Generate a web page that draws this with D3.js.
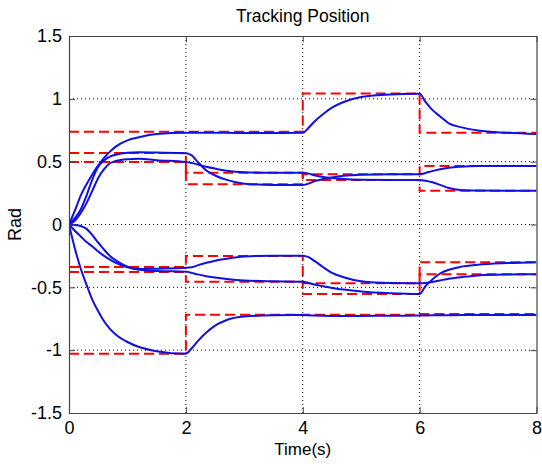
<!DOCTYPE html>
<html>
<head>
<meta charset="utf-8">
<script src="https://cdn.jsdelivr.net/npm/d3@7"></script>
<style>
  body { margin: 0; background: #fff; }
  svg { display: block; font-family: "Liberation Sans", Arial, sans-serif; }
</style>
</head>
<body>
<svg></svg>
<script>
const width = 542;
const height = 464;

// reference steps: value on [0,2), [2,4), [4,6), [6,8]
const stepTimes = [0, 2, 4, 6, 8];
const refA = [0.738, 0.738, 1.043, 0.73];
const refB = [0.569, 0.32, 0.40, 0.465];
const refC = [0.497, 0.412, 0.355, 0.268];
const refD = [-0.338, -0.25, -0.468, -0.396];
const refE = [-0.378, -0.455, -0.553, -0.30];
const refF = [-1.028, -0.718, -0.718, -0.712];

// sample times of the tracked positions
const times = [0, 0.1, 0.2, 0.3, 0.4, 0.5, 0.6, 0.7, 0.8, 1.0, 1.2, 1.5, 2.0,
  2.1, 2.2, 2.35, 2.5, 2.7, 3.0, 3.5, 4.0,
  4.1, 4.2, 4.35, 4.5, 4.7, 5.0, 5.5, 6.0,
  6.1, 6.2, 6.35, 6.5, 6.7, 7.0, 7.5, 8.0];

const posA = [0, 0.11, 0.23, 0.32, 0.40, 0.47, 0.53, 0.58, 0.62, 0.67, 0.695, 0.72, 0.73,
  0.73, 0.73, 0.73, 0.73, 0.73, 0.728, 0.728, 0.73,
  0.77, 0.82, 0.88, 0.93, 0.975, 1.015, 1.035, 1.04,
  0.975, 0.92, 0.86, 0.805, 0.775, 0.748, 0.73, 0.72];
const posB = [0, 0.05, 0.12, 0.23, 0.36, 0.46, 0.51, 0.54, 0.555, 0.57, 0.574, 0.572, 0.567,
  0.55, 0.50, 0.43, 0.39, 0.355, 0.325, 0.315, 0.315,
  0.325, 0.345, 0.362, 0.375, 0.387, 0.396, 0.40, 0.40,
  0.41, 0.423, 0.44, 0.452, 0.46, 0.465, 0.466, 0.466];
const posC = [0, 0.03, 0.09, 0.17, 0.27, 0.37, 0.44, 0.487, 0.505, 0.52, 0.524, 0.512, 0.497,
  0.49, 0.478, 0.46, 0.445, 0.428, 0.416, 0.412, 0.412,
  0.405, 0.392, 0.378, 0.37, 0.362, 0.357, 0.355, 0.355,
  0.348, 0.338, 0.315, 0.29, 0.275, 0.27, 0.268, 0.268];
const posD = [0, -0.05, -0.095, -0.14, -0.175, -0.215, -0.25, -0.28, -0.305, -0.34, -0.355, -0.352, -0.345,
  -0.34, -0.325, -0.305, -0.288, -0.272, -0.255, -0.248, -0.248,
  -0.26, -0.29, -0.34, -0.385, -0.42, -0.452, -0.466, -0.468,
  -0.465, -0.458, -0.445, -0.432, -0.42, -0.405, -0.398, -0.396];
const posE = [0, -0.003, -0.012, -0.035, -0.085, -0.145, -0.2, -0.25, -0.285, -0.335, -0.36, -0.37, -0.375,
  -0.385, -0.397, -0.412, -0.422, -0.433, -0.445, -0.452, -0.455,
  -0.465, -0.478, -0.492, -0.505, -0.518, -0.533, -0.547, -0.553,
  -0.49, -0.445, -0.39, -0.36, -0.337, -0.32, -0.307, -0.30];
const posF = [0, -0.19, -0.35, -0.48, -0.6, -0.69, -0.77, -0.83, -0.875, -0.935, -0.975, -1.008, -1.028,
  -0.985, -0.93, -0.86, -0.805, -0.76, -0.733, -0.722, -0.72,
  -0.722, -0.725, -0.727, -0.728, -0.728, -0.728, -0.726, -0.725,
  -0.724, -0.723, -0.722, -0.722, -0.721, -0.72, -0.72, -0.72];

const xTicks = [0, 2, 4, 6, 8];
const yTicks = [-1.5, -1, -0.5, 0, 0.5, 1, 1.5];

const refs = [refA, refB, refC, refD, refE, refF];
const outputs = [posA, posB, posC, posD, posE, posF];

const margin = {top: 36, right: 5.5, bottom: 51, left: 69};
const iw = width - margin.left - margin.right;
const ih = height - margin.top - margin.bottom;

const svg = d3.select('svg')
  .attr('width', width)
  .attr('height', height);

const x = d3.scaleLinear().domain([0, 8]).range([0, iw]);
const y = d3.scaleLinear().domain([-1.5, 1.5]).range([ih, 0]);

const g = svg.append('g')
  .attr('transform', `translate(${margin.left},${margin.top})`);

// dotted grid
g.selectAll('.gx')
  .data(xTicks.slice(1, -1))
  .enter()
  .append('line')
  .attr('x1', d => x(d)).attr('x2', d => x(d))
  .attr('y1', 0).attr('y2', ih)
  .attr('stroke', '#000')
  .attr('stroke-width', 1)
  .attr('stroke-dasharray', '1,3');

g.selectAll('.gy')
  .data(yTicks.slice(1, -1))
  .enter()
  .append('line')
  .attr('x1', 0).attr('x2', iw)
  .attr('y1', d => y(d)).attr('y2', d => y(d))
  .attr('stroke', '#000')
  .attr('stroke-width', 1)
  .attr('stroke-dasharray', '1,3');

svg.append('clipPath').attr('id', 'clip')
  .append('rect').attr('width', iw).attr('height', ih);

const plot = g.append('g').attr('clip-path', 'url(#clip)');

const stepLine = d3.line()
  .x(d => x(d[0]))
  .y(d => y(d[1]))
  .curve(d3.curveStepAfter);

refs.forEach(r => {
  const pts = stepTimes.map((t, i) => [t, r[Math.min(i, r.length - 1)]]);
  plot.append('path')
    .attr('d', stepLine(pts))
    .attr('fill', 'none')
    .attr('stroke', '#ff0000')
    .attr('stroke-width', 2)
    .attr('stroke-dasharray', '10,5');
});

const outLine = d3.line()
  .x(d => x(d[0]))
  .y(d => y(d[1]))
  .curve(d3.curveMonotoneX);

outputs.forEach(p => {
  plot.append('path')
    .attr('d', outLine(times.map((t, i) => [t, p[i]])))
    .attr('fill', 'none')
    .attr('stroke', '#1010e0')
    .attr('stroke-width', 2);
});

// axes (matlab-style box with inward ticks)
const axisColor = '#444';

const axBottom = g.append('g').attr('transform', `translate(0,${ih})`)
  .call(d3.axisBottom(x).tickValues(xTicks).tickSizeInner(-6).tickSizeOuter(0).tickPadding(8));
const axTop = g.append('g')
  .call(d3.axisTop(x).tickValues(xTicks).tickSizeInner(-6).tickSizeOuter(0).tickFormat(''));
const axLeft = g.append('g')
  .call(d3.axisLeft(y).tickValues(yTicks).tickSizeInner(-6).tickSizeOuter(0).tickPadding(7)
    .tickFormat(d => d));
const axRight = g.append('g').attr('transform', `translate(${iw},0)`)
  .call(d3.axisRight(y).tickValues(yTicks).tickSizeInner(-6).tickSizeOuter(0).tickFormat(''));

[axBottom, axTop, axLeft, axRight].forEach(a => {
  a.select('.domain').attr('stroke', axisColor).attr('stroke-width', 1.2);
  a.selectAll('.tick line').attr('stroke', axisColor);
  a.selectAll('text')
    .attr('fill', '#000')
    .attr('font-size', 18)
    .attr('font-family', '"Liberation Sans", Arial, sans-serif');
});

svg.append('text')
  .attr('x', margin.left + iw / 2)
  .attr('y', 22)
  .attr('text-anchor', 'middle')
  .attr('font-size', 17.5)
  .text('Tracking Position');

svg.append('text')
  .attr('x', margin.left + iw / 2)
  .attr('y', 455)
  .attr('text-anchor', 'middle')
  .attr('font-size', 17)
  .text('Time(s)');

svg.append('text')
  .attr('transform', `translate(21,${margin.top + ih / 2}) rotate(-90)`)
  .attr('text-anchor', 'middle')
  .attr('font-size', 18)
  .text('Rad');
</script>
</body>
</html>
